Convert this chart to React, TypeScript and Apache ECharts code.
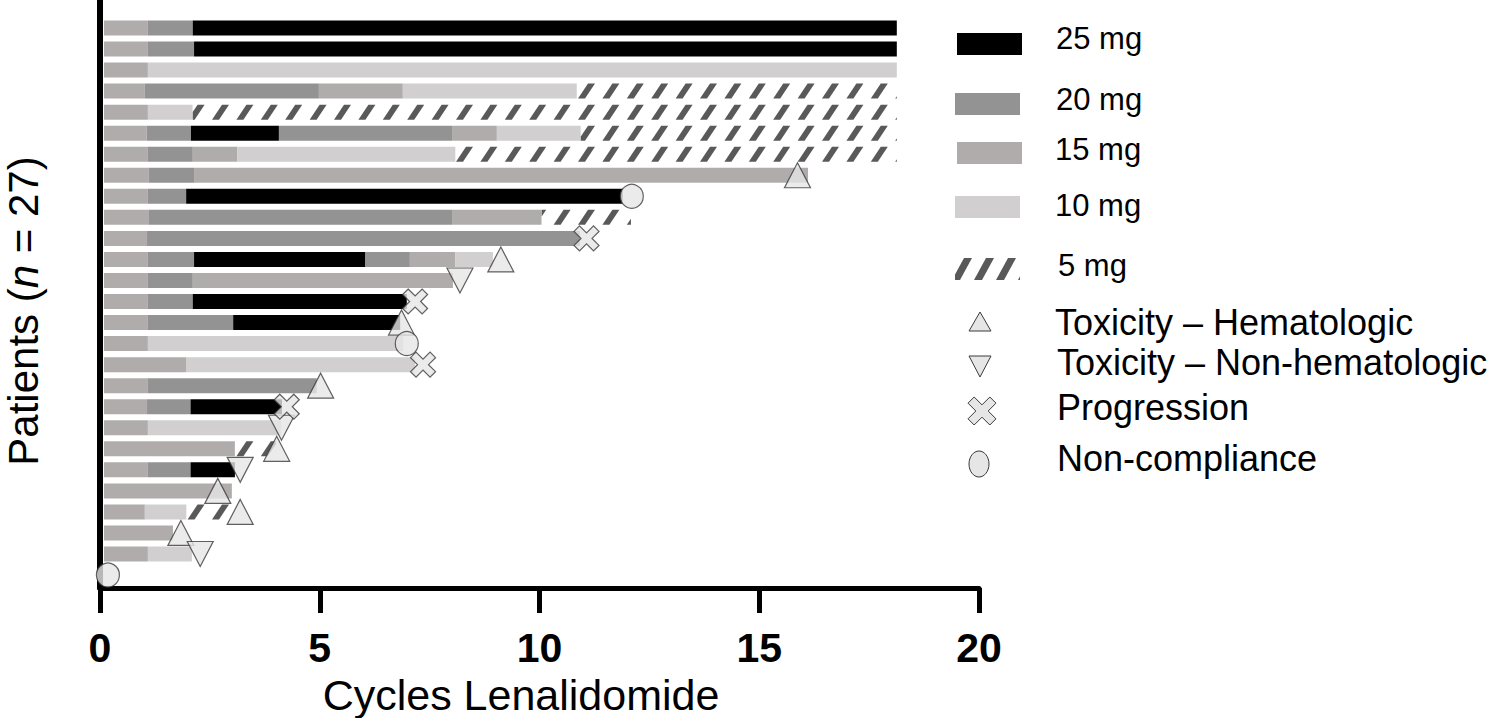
import React, { useEffect, useRef } from "react";
import * as echarts from "echarts";

const FONT = '"Liberation Sans", Arial, Helvetica, sans-serif';

// Patients (rows from top to bottom)
const patients = [1, 2, 3, 4, 5, 6, 7, 8, 9, 10, 11, 12, 13, 14, 15, 16, 17, 18, 19, 20, 21, 22, 23, 24, 25, 26, 27];

// Dose segments: [patient row, start cycle, end cycle]
const dose25 = [
  [1, 2.11, 18.13], [2, 2.14, 18.13], [6, 2.07, 4.07], [9, 1.96, 11.89], [12, 2.14, 6.03],
  [14, 2.11, 6.98], [15, 3.03, 6.83], [19, 2.06, 4.14], [22, 2.06, 3.07],
];
const dose20 = [
  [1, 1.09, 2.11], [2, 1.09, 2.14], [4, 1.02, 4.98], [6, 1.06, 2.07], [6, 4.07, 8.01],
  [7, 1.09, 2.11], [8, 1.11, 2.14], [9, 1.09, 1.96], [10, 1.1, 8.01], [11, 1.07, 10.92],
  [12, 1.09, 2.14], [12, 6.03, 7.05], [13, 1.09, 2.11], [14, 1.09, 2.11], [15, 1.09, 3.03],
  [18, 1.09, 4.93], [19, 1.07, 2.06], [22, 1.09, 2.06],
];
const dose15 = [
  [1, 0.09, 1.09], [2, 0.09, 1.09], [3, 0.09, 1.09], [4, 0.09, 1.02], [4, 4.98, 6.89],
  [5, 0.09, 1.09], [6, 0.09, 1.06], [6, 8.01, 9.03], [7, 0.09, 1.09], [7, 2.11, 3.12],
  [8, 0.09, 1.11], [8, 2.14, 16.11], [9, 0.09, 1.09], [10, 0.09, 1.1], [10, 8.01, 10.05],
  [11, 0.09, 1.07], [12, 0.09, 1.09], [12, 7.05, 8.08], [13, 0.09, 1.09], [13, 2.11, 8.03],
  [14, 0.09, 1.09], [15, 0.09, 1.09], [16, 0.09, 1.09], [17, 0.09, 1.97], [18, 0.09, 1.09],
  [19, 0.09, 1.07], [20, 0.09, 1.09], [21, 0.09, 3.07], [22, 0.09, 1.09], [23, 0.09, 3.0],
  [24, 0.09, 1.02], [25, 0.09, 1.66], [26, 0.09, 1.09],
];
const dose10 = [
  [3, 1.09, 18.13], [4, 6.89, 10.85], [5, 1.09, 2.11], [6, 9.03, 10.94], [7, 3.12, 8.09],
  [12, 8.08, 8.94], [16, 1.09, 6.9], [17, 1.97, 7.17], [20, 1.09, 4.12], [24, 1.02, 1.97],
  [26, 1.09, 2.09],
];
const dose5 = [
  [4, 10.85, 18.13], [5, 2.11, 18.13], [6, 10.94, 18.13], [7, 8.09, 18.13], [10, 10.05, 12.08],
  [21, 3.07, 4.0], [24, 1.97, 3.0],
];

// Events: [cycle, patient row]
const hematologic = [[15.87, 8], [9.12, 12], [6.86, 15], [5.02, 18], [4.02, 21], [2.68, 23], [3.19, 24], [1.84, 25]];
const nonHematologic = [[8.19, 13], [4.13, 20], [3.19, 22], [2.28, 26]];
const progression = [[11.07, 11], [7.17, 14], [7.35, 17], [4.25, 19]];
const nonCompliance = [[12.1, 9], [6.98, 16], [0.18, 27]];

const xTicks = [0, 5, 10, 15, 20];
const doseLabels = ["25 mg", "20 mg", "15 mg", "10 mg", "5 mg"];
const eventLabels = ["Toxicity – Hematologic", "Toxicity – Non-hematologic", "Progression", "Non-compliance"];

const DOSE_COLORS: Record<number, string> = { 25: "#000000", 20: "#939393", 15: "#b0acab", 10: "#d1cfcf" };
const HATCH = "#595959";
const MARK_FILL = "#e6e6e6";
const MARK_STROKE = "#3a3a3a";
const X_PATH = "path://M2.2,0 L5,2.8 L7.8,0 L10,2.2 L7.2,5 L10,7.8 L7.8,10 L5,7.2 L2.2,10 L0,7.8 L2.8,5 L0,2.2 Z";

function intersectX(a: number[], b: number[], x: number) {
  const t = (x - a[0]) / (b[0] - a[0]);
  return [x, a[1] + t * (b[1] - a[1])];
}
function clipEdge(pts: number[][], x: number, keepGreater: boolean) {
  const res: number[][] = [];
  for (let i = 0; i < pts.length; i++) {
    const cur = pts[i];
    const prev = pts[(i + pts.length - 1) % pts.length];
    const inC = keepGreater ? cur[0] >= x : cur[0] <= x;
    const inP = keepGreater ? prev[0] >= x : prev[0] <= x;
    if (inC) {
      if (!inP) res.push(intersectX(prev, cur, x));
      res.push(cur);
    } else if (inP) {
      res.push(intersectX(prev, cur, x));
    }
  }
  return res;
}
function stripes(xa: number, xb: number, yt: number, yb: number, anchor: number, period: number, w: number, slant: number) {
  const out: number[][][] = [];
  const kMin = Math.floor((xa - w - slant - anchor) / period);
  const kMax = Math.ceil((xb - anchor) / period);
  for (let k = kMin; k <= kMax; k++) {
    const bx = anchor + k * period;
    let poly = [[bx, yb], [bx + w, yb], [bx + w + slant, yt], [bx + slant, yt]];
    poly = clipEdge(poly, xa, true);
    if (poly.length) poly = clipEdge(poly, xb, false);
    if (poly.length >= 3) out.push(poly);
  }
  return out;
}
function xShape(cx: number, cy: number, w: number, h: number) {
  const a = 0.22;
  const base = [[a, 0], [0.5, 0.5 - a], [1 - a, 0], [1, a], [0.5 + a, 0.5], [1, 1 - a], [1 - a, 1], [0.5, 0.5 + a], [a, 1], [0, 1 - a], [0.5 - a, 0.5], [0, a]];
  return base.map(([px, py]) => [cx + (px - 0.5) * w, cy + (py - 0.5) * h]);
}

export default function App() {
  const ref = useRef<HTMLDivElement>(null);
  useEffect(() => {
    document.body.style.margin = "0";
    const chart = echarts.init(ref.current!, null, { renderer: "svg" });

    const segments: number[][] = [];
    const add = (arr: number[][], dose: number) => arr.forEach(([r, s, e]) => segments.push([s, e, r, dose]));
    add(dose15, 15);
    add(dose20, 20);
    add(dose25, 25);
    add(dose10, 10);
    add(dose5, 5);

    const BAR_H = 15;
    const renderItem = (params: any, api: any) => {
      const s = api.value(0), e = api.value(1), r = api.value(2), dose = api.value(3);
      const p0 = api.coord([s, r]);
      const p1 = api.coord([e, r]);
      const y = p0[1] - BAR_H / 2;
      if (dose !== 5) {
        return { type: "rect", shape: { x: p0[0], y, width: p1[0] - p0[0], height: BAR_H }, style: { fill: DOSE_COLORS[dose] } };
      }
      const polys = stripes(p0[0], p1[0], y, y + BAR_H, 578, 24.4, 7, 10);
      return {
        type: "group",
        children: [
          { type: "rect", shape: { x: p0[0], y, width: p1[0] - p0[0], height: BAR_H }, style: { fill: "#ffffff" } },
          ...polys.map((pts) => ({ type: "polygon", shape: { points: pts }, style: { fill: HATCH } })),
        ],
      };
    };

    const markerStyle = { color: MARK_FILL, borderColor: MARK_STROKE, borderWidth: 1.2 };

    // legend graphics
    const graphics: any[] = [];
    const swX = [957, 955, 957, 955, 955];
    const swY = [44, 104, 153, 207, 269];
    const txX = [1056, 1056, 1055, 1055, 1058];
    const txY = [38, 99, 149, 205, 265];
    doseLabels.forEach((lab, i) => {
      const dose = [25, 20, 15, 10, 5][i];
      if (dose !== 5) {
        graphics.push({ type: "rect", shape: { x: swX[i], y: swY[i] - 11, width: 65, height: 22 }, style: { fill: DOSE_COLORS[dose] } });
      } else {
        stripes(swX[i], swX[i] + 65, swY[i] - 11, swY[i] + 11, 952, 22, 8, 12).forEach((pts) =>
          graphics.push({ type: "polygon", shape: { points: pts }, style: { fill: HATCH } })
        );
      }
      graphics.push({ type: "text", x: txX[i], y: txY[i], style: { text: lab, fontSize: 31, fontFamily: FONT, fill: "#000", align: "left", verticalAlign: "middle" } });
    });
    const evTx = [1055, 1057, 1057, 1057];
    const evTy = [322, 362, 407, 458];
    graphics.push({ type: "polygon", shape: { points: [[980, 312], [991, 331], [969, 331]] }, style: { fill: MARK_FILL, stroke: MARK_STROKE, lineWidth: 1 } });
    graphics.push({ type: "polygon", shape: { points: [[969, 356], [991, 356], [980, 377]] }, style: { fill: MARK_FILL, stroke: MARK_STROKE, lineWidth: 1 } });
    graphics.push({ type: "polygon", shape: { points: xShape(982, 411, 28, 28) }, style: { fill: MARK_FILL, stroke: MARK_STROKE, lineWidth: 1 } });
    graphics.push({ type: "ellipse", shape: { cx: 979, cy: 464, rx: 10, ry: 13 }, style: { fill: MARK_FILL, stroke: MARK_STROKE, lineWidth: 1 } });
    eventLabels.forEach((lab, i) => {
      graphics.push({ type: "text", x: evTx[i], y: evTy[i], style: { text: lab, fontSize: 36, fontFamily: FONT, fill: "#000", align: "left", verticalAlign: "middle" } });
    });
    // axis titles
    graphics.push({ type: "text", x: 521, y: 695, style: { text: "Cycles Lenalidomide", fontSize: 43, fontFamily: FONT, fill: "#000", align: "center", verticalAlign: "middle" } });
    graphics.push({
      type: "text",
      x: 23,
      y: 311,
      rotation: Math.PI / 2,
      style: {
        text: "{a|Patients (}{i|n}{a| = 27)}",
        rich: {
          a: { fontSize: 42, fontFamily: FONT, fill: "#000" },
          i: { fontSize: 42, fontFamily: FONT, fontStyle: "italic", fill: "#000" },
        },
        align: "center",
        verticalAlign: "middle",
      },
    });

    chart.setOption({
      animation: false,
      backgroundColor: "#ffffff",
      grid: { left: 100, right: 521, top: 0, bottom: 130, containLabel: false },
      xAxis: {
        type: "value",
        min: xTicks[0],
        max: xTicks[xTicks.length - 1],
        interval: 5,
        axisLine: { onZero: false, lineStyle: { color: "#000", width: 5 } },
        axisTick: { length: 25, lineStyle: { color: "#000", width: 5 } },
        axisLabel: { fontSize: 41, fontWeight: "bold", color: "#000", margin: 39, fontFamily: FONT },
        splitLine: { show: false },
        z: 10,
      },
      yAxis: {
        type: "value",
        inverse: true,
        min: -0.331,
        max: 27.616,
        axisLine: { show: true, onZero: false, lineStyle: { color: "#000", width: 6 } },
        axisTick: { show: false },
        axisLabel: { show: false },
        splitLine: { show: false },
        z: 10,
      },
      graphic: graphics,
      series: [
        { type: "custom", renderItem, data: segments, encode: { x: [0, 1], y: 2 }, z: 2 },
        { type: "scatter", name: eventLabels[0], data: hematologic, symbol: "triangle", symbolSize: [26, 25], itemStyle: markerStyle, z: 20 },
        { type: "scatter", name: eventLabels[1], data: nonHematologic, symbol: "triangle", symbolRotate: 180, symbolSize: [26, 25], itemStyle: markerStyle, z: 20 },
        { type: "scatter", name: eventLabels[2], data: progression, symbol: X_PATH, symbolSize: [25, 25], itemStyle: markerStyle, z: 20 },
        { type: "scatter", name: eventLabels[3], data: nonCompliance, symbol: "circle", symbolSize: [23, 24], itemStyle: markerStyle, z: 20 },
      ],
    });
    return () => chart.dispose();
  }, []);
  return <div ref={ref} style={{ position: "absolute", left: 0, top: 0, width: 1500, height: 718 }} />;
}
